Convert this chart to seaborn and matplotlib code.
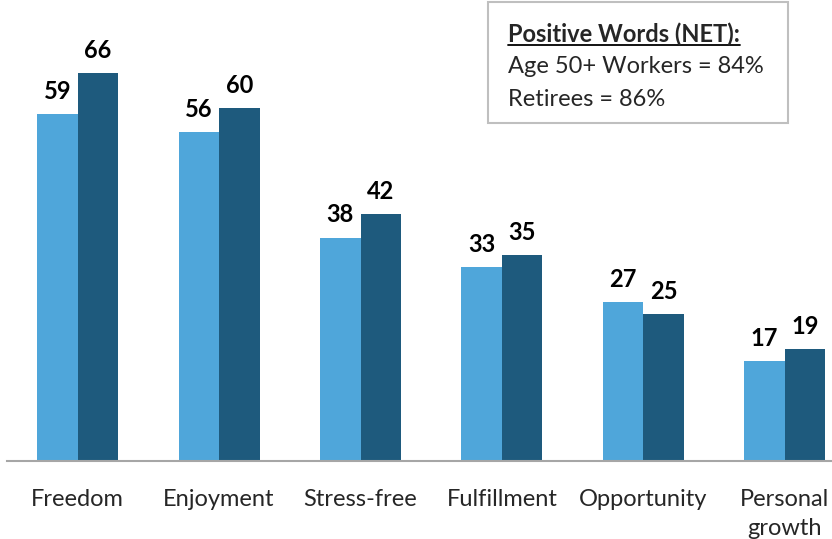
import matplotlib.pyplot as plt
import seaborn as sns
import pandas as pd

# Chart data
categories = ['Freedom', 'Enjoyment', 'Stress-free', 'Fulfillment', 'Opportunity', 'Personal\ngrowth']
workers = [59, 56, 38, 33, 27, 17]
retirees = [66, 60, 42, 35, 25, 19]
series_names = ['Age 50+ Workers', 'Retirees']
box_title = 'Positive Words (NET):'
box_lines = ['Age 50+ Workers = 84%', 'Retirees = 86%']

df = pd.DataFrame({
    'word': categories * 2,
    'group': [series_names[0]] * len(categories) + [series_names[1]] * len(categories),
    'value': workers + retirees,
})

sns.set_style('white')
plt.rcParams['font.family'] = ['Lato', 'DejaVu Sans']

fig = plt.figure(figsize=(8.32, 5.39), dpi=100)
ax = fig.add_axes([0.0084, 0.1447, 0.9916, 0.8553])

sns.barplot(ax=ax, data=df, x='word', y='value', hue='group',
            palette=['#4fa6da', '#1e5a7d'], width=0.573, saturation=1,
            legend=False, edgecolor='none')

# Value labels above bars
for cont in ax.containers:
    ax.bar_label(cont, fmt='%d', padding=8, fontsize=17, fontweight='bold', color='black')

ax.set_xlim(-0.5, 5.334)
ax.set_ylim(0, 78.4)
ax.set_xlabel('')
ax.set_ylabel('')
ax.set_yticks([])
ax.tick_params(axis='x', length=0, pad=20, labelsize=17)
for s in ['top', 'right', 'left']:
    ax.spines[s].set_visible(False)
ax.spines['bottom'].set_color('#a6a6a6')
ax.spines['bottom'].set_linewidth(1.5)
for lbl in ax.get_xticklabels():
    lbl.set_verticalalignment('top')
    lbl.set_linespacing(1.5)

# Summary box in the upper right
box = plt.Rectangle((0.586, 0.771), 0.361, 0.225, transform=fig.transFigure,
                    facecolor='white', edgecolor='#bfbfbf', linewidth=1.5)
fig.add_artist(box)
t = fig.text(0.611, 0.937, box_title, fontsize=17, fontweight='bold', va='center')
fig.text(0.611, 0.877, box_lines[0], fontsize=17, va='center')
fig.text(0.611, 0.816, box_lines[1], fontsize=17, va='center')

# Underline the box title
fig.canvas.draw()
bb = t.get_window_extent().transformed(fig.transFigure.inverted())
fig.add_artist(plt.Line2D([bb.x0, bb.x1], [bb.y0 + 0.002, bb.y0 + 0.002],
                          transform=fig.transFigure, color='black', linewidth=1.3))

fig.savefig('out.png', dpi=100)
